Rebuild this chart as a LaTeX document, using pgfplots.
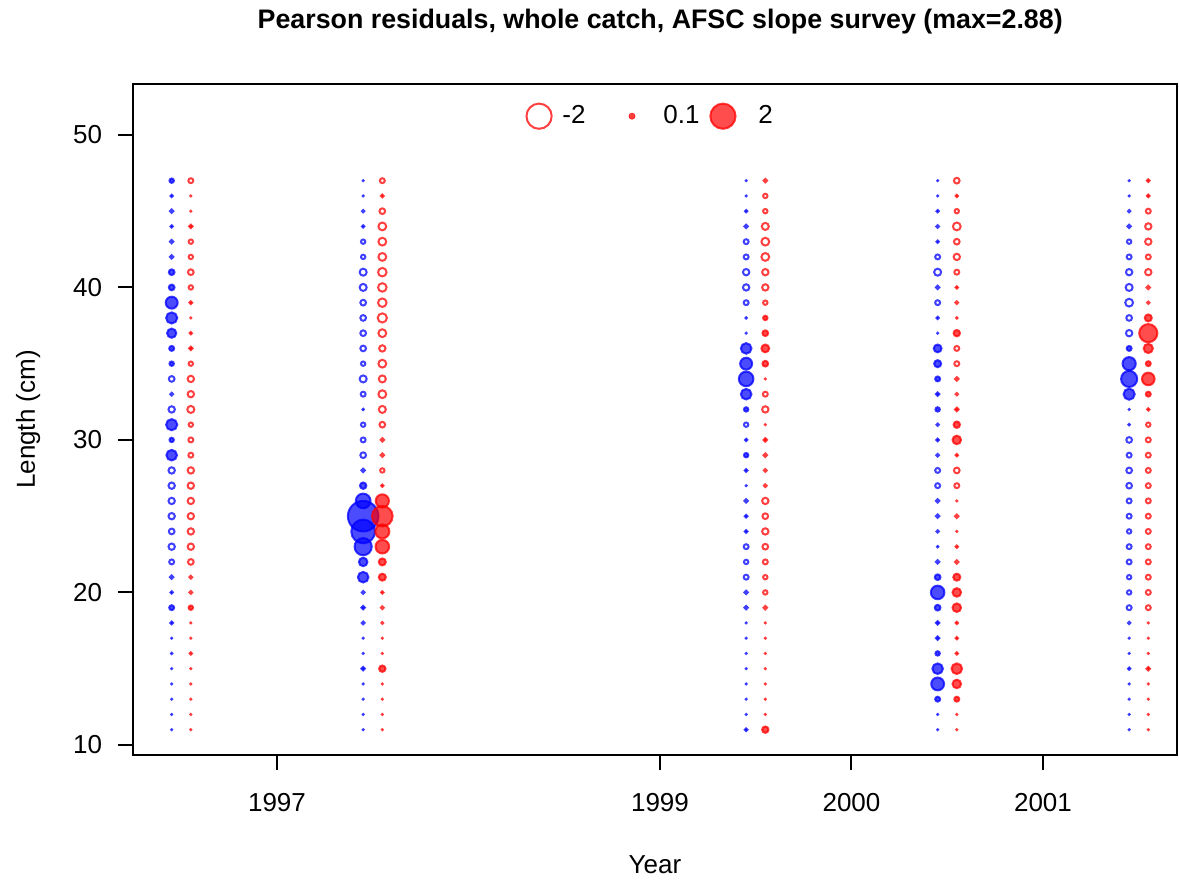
\documentclass[border=0pt]{standalone}
\usepackage{pgfplots}
\pgfplotsset{compat=1.18}
\usepackage{pgfplotstable}
\usepackage{fontspec}
\setmainfont{Liberation Sans}

% Pearson residuals by length; b = blue column, r = red column, per year
\pgfplotstableread{
len b96 r96 b97 r97 b99 r99 b00 r00 b01 r01
47 0.11 -0.13 0.01 -0.13 0.01 -0.08 0.01 -0.16 0.01 0.06
46 0.05 0.01 0.01 0.06 0.01 -0.11 0.01 0.05 0.01 0.06
45 -0.08 0.01 -0.05 -0.16 0.05 -0.11 0.05 -0.11 -0.05 -0.13
44 0.05 0.08 0.05 -0.26 -0.08 -0.22 -0.06 -0.26 -0.08 -0.19
43 -0.08 -0.11 -0.11 -0.26 -0.13 -0.26 0.05 -0.16 -0.11 -0.19
42 -0.08 -0.11 -0.11 -0.26 -0.13 -0.26 -0.13 -0.19 -0.13 -0.13
41 0.16 -0.16 -0.22 -0.30 -0.19 -0.19 -0.22 -0.13 -0.19 -0.19
40 0.16 -0.11 -0.22 -0.30 -0.19 -0.19 -0.08 0.05 -0.22 -0.08
39 0.53 0.06 -0.16 -0.30 -0.13 -0.11 -0.13 -0.06 -0.26 -0.05
38 0.47 0.01 -0.16 -0.34 0.03 0.11 0.05 0.03 -0.16 0.22
37 0.34 0.05 -0.16 -0.26 0.01 0.16 0.01 0.19 -0.19 1.10
36 0.13 0.08 -0.16 -0.19 0.43 0.26 0.26 -0.13 0.13 0.34
35 0.11 -0.11 -0.11 -0.26 0.53 0.16 0.22 -0.13 0.63 0.13
34 -0.16 -0.19 -0.22 -0.22 0.75 0.01 0.13 -0.08 0.89 0.58
33 -0.06 -0.19 -0.13 -0.26 0.43 -0.13 0.08 -0.05 0.47 0.13
32 -0.19 -0.22 0.03 -0.22 0.11 -0.19 0.11 0.08 0.01 0.05
31 0.47 -0.11 -0.11 -0.16 -0.11 0.01 -0.05 0.19 0.03 -0.11
30 0.11 -0.13 -0.13 -0.08 0.05 0.08 0.06 0.30 -0.16 -0.13
29 0.43 -0.13 -0.16 -0.08 0.11 -0.08 -0.06 0.05 -0.13 -0.13
28 -0.19 -0.19 -0.08 -0.11 0.06 -0.06 -0.13 -0.16 -0.16 -0.13
27 -0.19 -0.19 0.19 0.05 0.01 -0.06 -0.13 -0.13 -0.16 -0.13
26 -0.19 -0.19 0.76 0.63 -0.08 -0.19 -0.08 0.01 -0.13 -0.13
25 -0.19 -0.19 2.88 1.39 0.06 -0.16 -0.08 -0.08 -0.13 -0.13
24 -0.16 -0.19 1.80 0.70 0.06 -0.19 -0.05 0.01 -0.11 -0.13
23 -0.19 -0.19 1.00 0.66 -0.13 -0.16 0.03 0.05 -0.13 -0.13
22 -0.13 -0.16 0.30 0.22 -0.11 -0.13 -0.08 -0.08 -0.13 -0.13
21 -0.08 -0.06 0.43 0.22 -0.13 -0.11 0.16 0.22 -0.11 -0.13
20 0.05 -0.06 -0.06 0.05 -0.08 -0.11 0.66 0.30 -0.11 -0.13
19 0.13 0.11 0.08 -0.06 -0.08 -0.08 0.16 0.30 -0.13 -0.13
18 0.06 0.01 -0.06 -0.04 0.01 0.01 0.08 0.05 -0.05 0.01
17 0.01 0.01 0.01 0.01 0.01 0.01 0.08 0.05 0.01 0.01
16 0.03 0.05 0.01 0.01 0.01 0.01 0.11 0.05 0.01 0.01
15 0.01 0.01 0.08 0.19 0.01 0.01 0.43 0.43 0.05 0.08
14 0.01 0.01 0.01 0.01 0.01 0.01 0.60 0.30 0.01 0.01
13 0.01 0.01 0.01 0.01 0.01 0.01 0.13 0.13 0.01 0.01
12 0.01 0.01 0.01 0.01 0.01 0.01 0.01 0.01 0.01 0.01
11 0.01 0.01 0.01 0.01 0.06 0.19 0.01 0.01 0.01 0.01
}\resid

\pgfplotsset{
  bub/.style 2 args={
    only marks, scatter, mark=*, line width=1pt,
    draw=#1, fill=#1,
    visualization depends on={\thisrow{#2} \as \rv},
    scatter/@pre marker code/.code={%
      \pgfmathsetmacro\rad{max(4.8*sqrt(abs(\rv))-0.5,0.2)}%
      \ifdim\rv pt>0pt \def\fop{0.7}\else\def\fop{0}\fi
      \scope[mark size=\rad pt, fill opacity=\fop, draw opacity=0.75]%
    },
    scatter/@post marker code/.code={\endscope},
  },
}

\begin{document}
\begin{tikzpicture}
\begin{axis}[
  name=ax,
  scale only axis,
  width=522pt, height=335.5pt,
  xmin=1996.248, xmax=2001.70,
  ymin=9.34, ymax=53.34,
  axis line style={line width=1pt},
  xtick={1997,1999,2000,2001},
  ytick={10,20,30,40,50},
  xtick pos=left, ytick pos=left,
  tick align=outside,
  major tick length=7.5pt,
  every tick/.style={black, line width=1pt},
  x tick label style={/pgf/number format/1000 sep={}, yshift=-8pt},
  y tick label style={xshift=-4.5pt},
  /pgf/number format/assume math mode=true,
  font=\fontsize{13}{15.5}\selectfont,
  title={Pearson residuals, whole catch, AFSC slope survey (max=2.88)},
  every axis title shift=0pt,
  title style={font=\bfseries\fontsize{13.4}{16}\selectfont,
    at={(axis description cs:0.505,1.0924)}, anchor=center},
  xlabel={Year},
  ylabel={Length (cm)},
  xlabel style={at={(axis description cs:0.5,-0.1639)}, anchor=center},
  ylabel style={at={(axis description cs:-0.1004,0.5)}, anchor=center},
  legend columns=3,
  legend style={draw=none, fill=none, column sep=0pt,
    at={(axis description cs:0.494,0.952)}, anchor=center,
    font=\fontsize{13}{15.5}\selectfont,
    nodes={inner xsep=0pt}},
  clip=false,
]
\addlegendimage{legend image code/.code={
  \draw[red, draw opacity=0.75, line width=1pt] (0pt,0pt) circle (6.3pt);
  \path (-7pt,0pt) (11.5pt,0pt);}}
\addlegendentry{-2}
\addlegendimage{legend image code/.code={
  \fill[red, opacity=0.75] (0pt,0pt) circle (1.5pt);
  \path (-23pt,0pt) (15.5pt,0pt);}}
\addlegendentry{0.1}
\addlegendimage{legend image code/.code={
  \draw[red, fill=red, fill opacity=0.7, draw opacity=0.75, line width=1pt] (0pt,0pt) circle (6.3pt);
  \path (-11.5pt,0pt) (17.5pt,0pt);}}
\addlegendentry{2}

\addplot[bub={blue}{b96}] table[x expr=1996.45, y=len] {\resid};
\addplot[bub={red}{r96}] table[x expr=1996.55, y=len] {\resid};
\addplot[bub={blue}{b97}] table[x expr=1997.45, y=len] {\resid};
\addplot[bub={red}{r97}] table[x expr=1997.55, y=len] {\resid};
\addplot[bub={blue}{b99}] table[x expr=1999.45, y=len] {\resid};
\addplot[bub={red}{r99}] table[x expr=1999.55, y=len] {\resid};
\addplot[bub={blue}{b00}] table[x expr=2000.45, y=len] {\resid};
\addplot[bub={red}{r00}] table[x expr=2000.55, y=len] {\resid};
\addplot[bub={blue}{b01}] table[x expr=2001.45, y=len] {\resid};
\addplot[bub={red}{r01}] table[x expr=2001.55, y=len] {\resid};
\end{axis}
\pgfresetboundingbox
\useasboundingbox ([xshift=-66.5pt,yshift=-63pt]ax.south west) rectangle ([xshift=1pt,yshift=42pt]ax.north east);
\end{tikzpicture}
\end{document}
